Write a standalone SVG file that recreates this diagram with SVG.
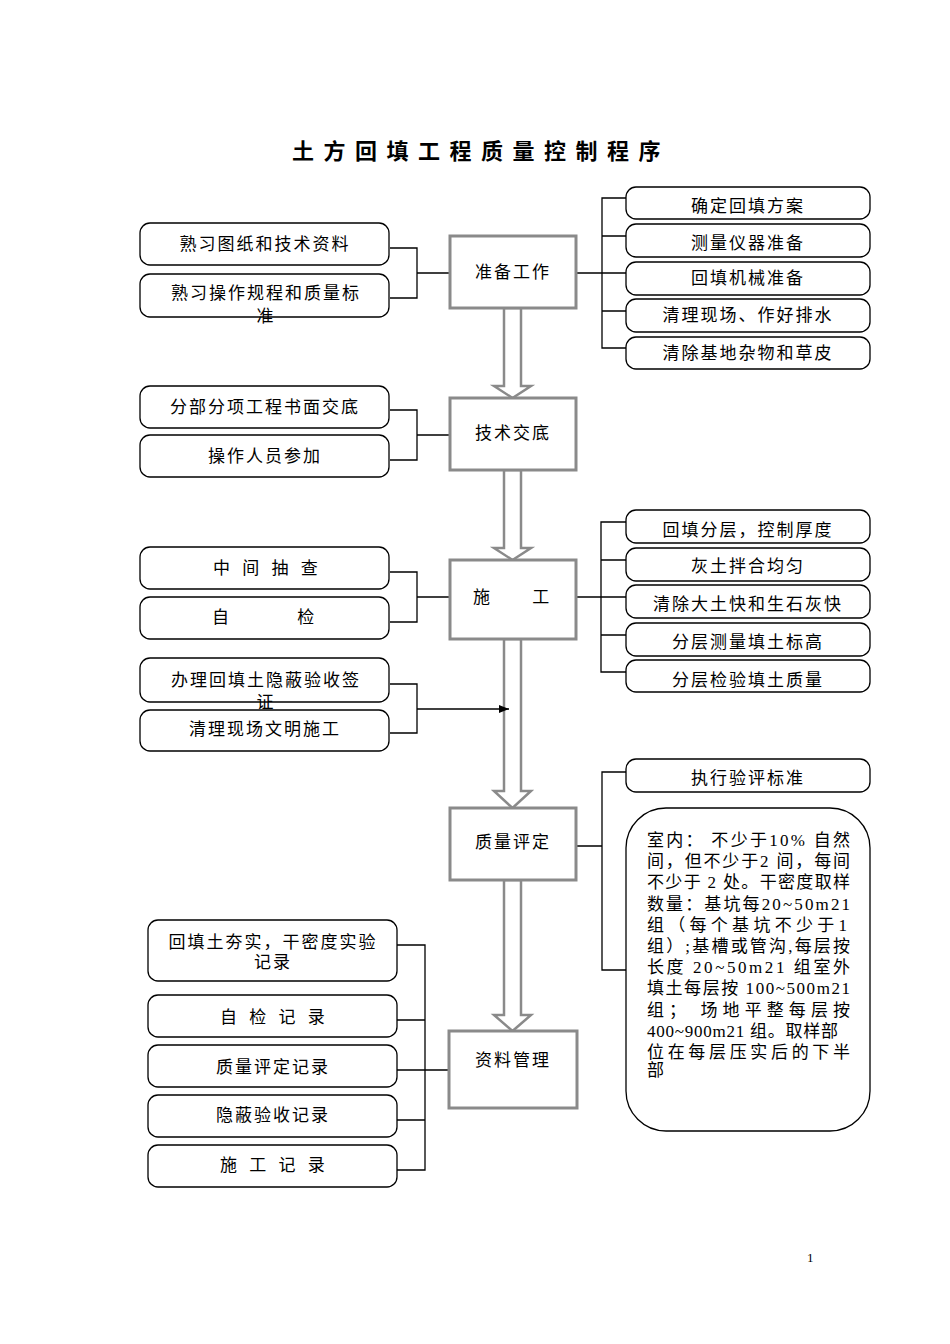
<svg xmlns="http://www.w3.org/2000/svg" width="950" height="1344" viewBox="0 0 950 1344">
<defs>
<style>
.c{fill:#fff;stroke:#8a8a8a;stroke-width:3}
.r{fill:#fff;stroke:#000;stroke-width:1.3}
.ln{fill:none;stroke:#000;stroke-width:1.3}
.ar{fill:#fff;stroke:#8a8a8a;stroke-width:2.5;stroke-linejoin:miter}
text{font-family:"Liberation Serif","Noto Sans CJK SC",serif;font-size:17px;fill:#000}
.t{text-anchor:middle;letter-spacing:2px}
.s{text-anchor:start}
.b{font-size:17px}
</style>
<marker id="ah" viewBox="0 0 10 10" refX="10" refY="5" markerWidth="10" markerHeight="10" markerUnits="userSpaceOnUse" orient="auto">
<path d="M0,1 L10,5 L0,9 z" fill="#000"/>
</marker>
</defs>
<rect width="950" height="1344" fill="#fff"/>

<text id="title" x="292" y="159" style="font-size:22px;font-weight:bold;letter-spacing:9.5px">土方回填工程质量控制程序</text>

<g id="connectors">
<polygon class="ar" points="504,308 521,308 521,386 531,386 512.5,398 494,386 504,386"/>
<polygon class="ar" points="504,470 521,470 521,548 531,548 512.5,560 494,548 504,548"/>
<polygon class="ar" points="504,639 521,639 521,791 531,791 512.5,808 494,791 504,791"/>
<polygon class="ar" points="504,880 521,880 521,1015 531,1015 512.5,1031 494,1015 504,1015"/>
<path class="ln" d="M390,248 H417 V298 H390 M417,273 H450"/>
<path class="ln" d="M390,410 H417 V460 H390 M417,435 H450"/>
<path class="ln" d="M390,572 H417 V622 H390 M417,597 H450"/>
<path class="ln" d="M390,684 H417 V733 H390"/>
<path class="ln" d="M417,709 H509" marker-end="url(#ah)"/>
<path class="ln" d="M576,273 H602 M626,198 H602 V348 H626 M602,236 H626 M602,273 H626 M602,311 H626"/>
<path class="ln" d="M576,597 H601 M626,522 H601 V672 H626 M601,560 H626 M601,597 H626 M601,635 H626"/>
<path class="ln" d="M576,846 H602 M626,772 H602 V970 H626"/>
<path class="ln" d="M397,945 H425 V1170 H397 M397,1020 H425 M397,1070 H449 M397,1120 H425"/>
</g>

<g id="n-zhunbei"><rect class="c" x="450" y="236" width="126" height="72"/><text class="t" x="513" y="278">准备工作</text></g>
<g id="n-jishu"><rect class="c" x="450" y="398" width="126" height="72"/><text class="t" x="513" y="439">技术交底</text></g>
<g id="n-shigong"><rect class="c" x="450" y="560" width="126" height="79"/><text class="s" x="473" y="603" style="letter-spacing:19px">施 工</text></g>
<g id="n-zhiliang"><rect class="c" x="450" y="808" width="126" height="72"/><text class="t" x="513" y="848">质量评定</text></g>
<g id="n-ziliao"><rect class="c" x="449" y="1031" width="128" height="77"/><text class="t" x="513" y="1066">资料管理</text></g>

<g id="l1"><rect class="r" x="140" y="223" width="249" height="42" rx="10"/><text class="t" x="265" y="250">熟习图纸和技术资料</text></g>
<g id="l2"><rect class="r" x="140" y="274" width="249" height="43" rx="10"/><text class="t" x="266" y="299">熟习操作规程和质量标</text><text class="t" x="266" y="322">准</text></g>
<g id="l3"><rect class="r" x="140" y="386" width="249" height="42" rx="10"/><text class="t" x="265" y="413">分部分项工程书面交底</text></g>
<g id="l4"><rect class="r" x="140" y="435" width="249" height="42" rx="10"/><text class="t" x="265" y="462">操作人员参加</text></g>
<g id="l5"><rect class="r" x="140" y="547" width="249" height="42" rx="10"/><text class="s" x="213" y="574" style="letter-spacing:4px">中 间 抽 查</text></g>
<g id="l6"><rect class="r" x="140" y="597" width="249" height="42" rx="10"/><text class="s" x="212" y="623" style="letter-spacing:32px">自 检</text></g>
<g id="l7"><rect class="r" x="140" y="658" width="249" height="44" rx="10"/><text class="t" x="266" y="686">办理回填土隐蔽验收签</text><text class="t" x="266" y="708">证</text></g>
<g id="l8"><rect class="r" x="140" y="710" width="249" height="41" rx="10"/><text class="t" x="265" y="735">清理现场文明施工</text></g>

<g id="r1"><rect class="r" x="626" y="187" width="244" height="32" rx="10"/><text class="t" x="748" y="212">确定回填方案</text></g>
<g id="r2"><rect class="r" x="626" y="224" width="244" height="33" rx="10"/><text class="t" x="748" y="249">测量仪器准备</text></g>
<g id="r3"><rect class="r" x="626" y="262" width="244" height="33" rx="10"/><text class="t" x="748" y="284">回填机械准备</text></g>
<g id="r4"><rect class="r" x="626" y="299" width="244" height="33" rx="10"/><text class="t" x="748" y="321">清理现场、作好排水</text></g>
<g id="r5"><rect class="r" x="626" y="337" width="244" height="32" rx="10"/><text class="t" x="748" y="359">清除基地杂物和草皮</text></g>

<g id="r6"><rect class="r" x="626" y="510" width="244" height="33" rx="10"/><text class="t" x="748" y="536">回填分层，控制厚度</text></g>
<g id="r7"><rect class="r" x="626" y="548" width="244" height="33" rx="10"/><text class="t" x="748" y="572">灰土拌合均匀</text></g>
<g id="r8"><rect class="r" x="626" y="585" width="244" height="33" rx="10"/><text class="t" x="748" y="610">清除大土快和生石灰快</text></g>
<g id="r9"><rect class="r" x="626" y="623" width="244" height="33" rx="10"/><text class="t" x="748" y="648">分层测量填土标高</text></g>
<g id="r10"><rect class="r" x="626" y="660" width="244" height="32" rx="10"/><text class="t" x="748" y="686">分层检验填土质量</text></g>

<g id="r11"><rect class="r" x="626" y="759" width="244" height="33" rx="10"/><text class="t" x="748" y="784">执行验评标准</text></g>
<g id="r12"><rect class="r" x="626" y="808" width="244" height="323" rx="40"/>
<text class="b" x="647" y="846" textLength="203" lengthAdjust="spacing">室内： 不少于10% 自然</text>
<text class="b" x="647" y="867" textLength="203" lengthAdjust="spacing">间，但不少于2 间，每间</text>
<text class="b" x="647" y="888" textLength="203" lengthAdjust="spacing">不少于 2 处。干密度取样</text>
<text class="b" x="647" y="910" textLength="203" lengthAdjust="spacing">数量：基坑每20~50m21</text>
<text class="b" x="647" y="931" textLength="200" lengthAdjust="spacing">组（每个基坑不少于1</text>
<text class="b" x="647" y="952" textLength="203" lengthAdjust="spacing">组）;基槽或管沟,每层按</text>
<text class="b" x="647" y="973" textLength="203" lengthAdjust="spacing">长度 20~50m21 组室外</text>
<text class="b" x="647" y="994" textLength="203" lengthAdjust="spacing">填土每层按 100~500m21</text>
<text class="b" x="647" y="1016" textLength="203" lengthAdjust="spacing">组； 场地平整每层按</text>
<text class="b" x="647" y="1037" textLength="191" lengthAdjust="spacing">400~900m21 组。取样部</text>
<text class="b" x="647" y="1058" textLength="203" lengthAdjust="spacing">位在每层压实后的下半</text>
<text class="b" x="647" y="1076">部</text>
</g>

<g id="b1"><rect class="r" x="148" y="920" width="249" height="61" rx="10"/><text class="t" x="273" y="948">回填土夯实，干密度实验</text><text class="t" x="273" y="968">记录</text></g>
<g id="b2"><rect class="r" x="148" y="995" width="249" height="42" rx="10"/><text class="s" x="220" y="1023" style="letter-spacing:4px">自 检 记 录</text></g>
<g id="b3"><rect class="r" x="148" y="1045" width="249" height="42" rx="10"/><text class="t" x="273" y="1073">质量评定记录</text></g>
<g id="b4"><rect class="r" x="148" y="1095" width="249" height="42" rx="10"/><text class="t" x="273" y="1121">隐蔽验收记录</text></g>
<g id="b5"><rect class="r" x="148" y="1145" width="249" height="42" rx="10"/><text class="s" x="220" y="1171" style="letter-spacing:4px">施 工 记 录</text></g>

<text x="807" y="1262" style="font-size:13px">1</text>
</svg>
